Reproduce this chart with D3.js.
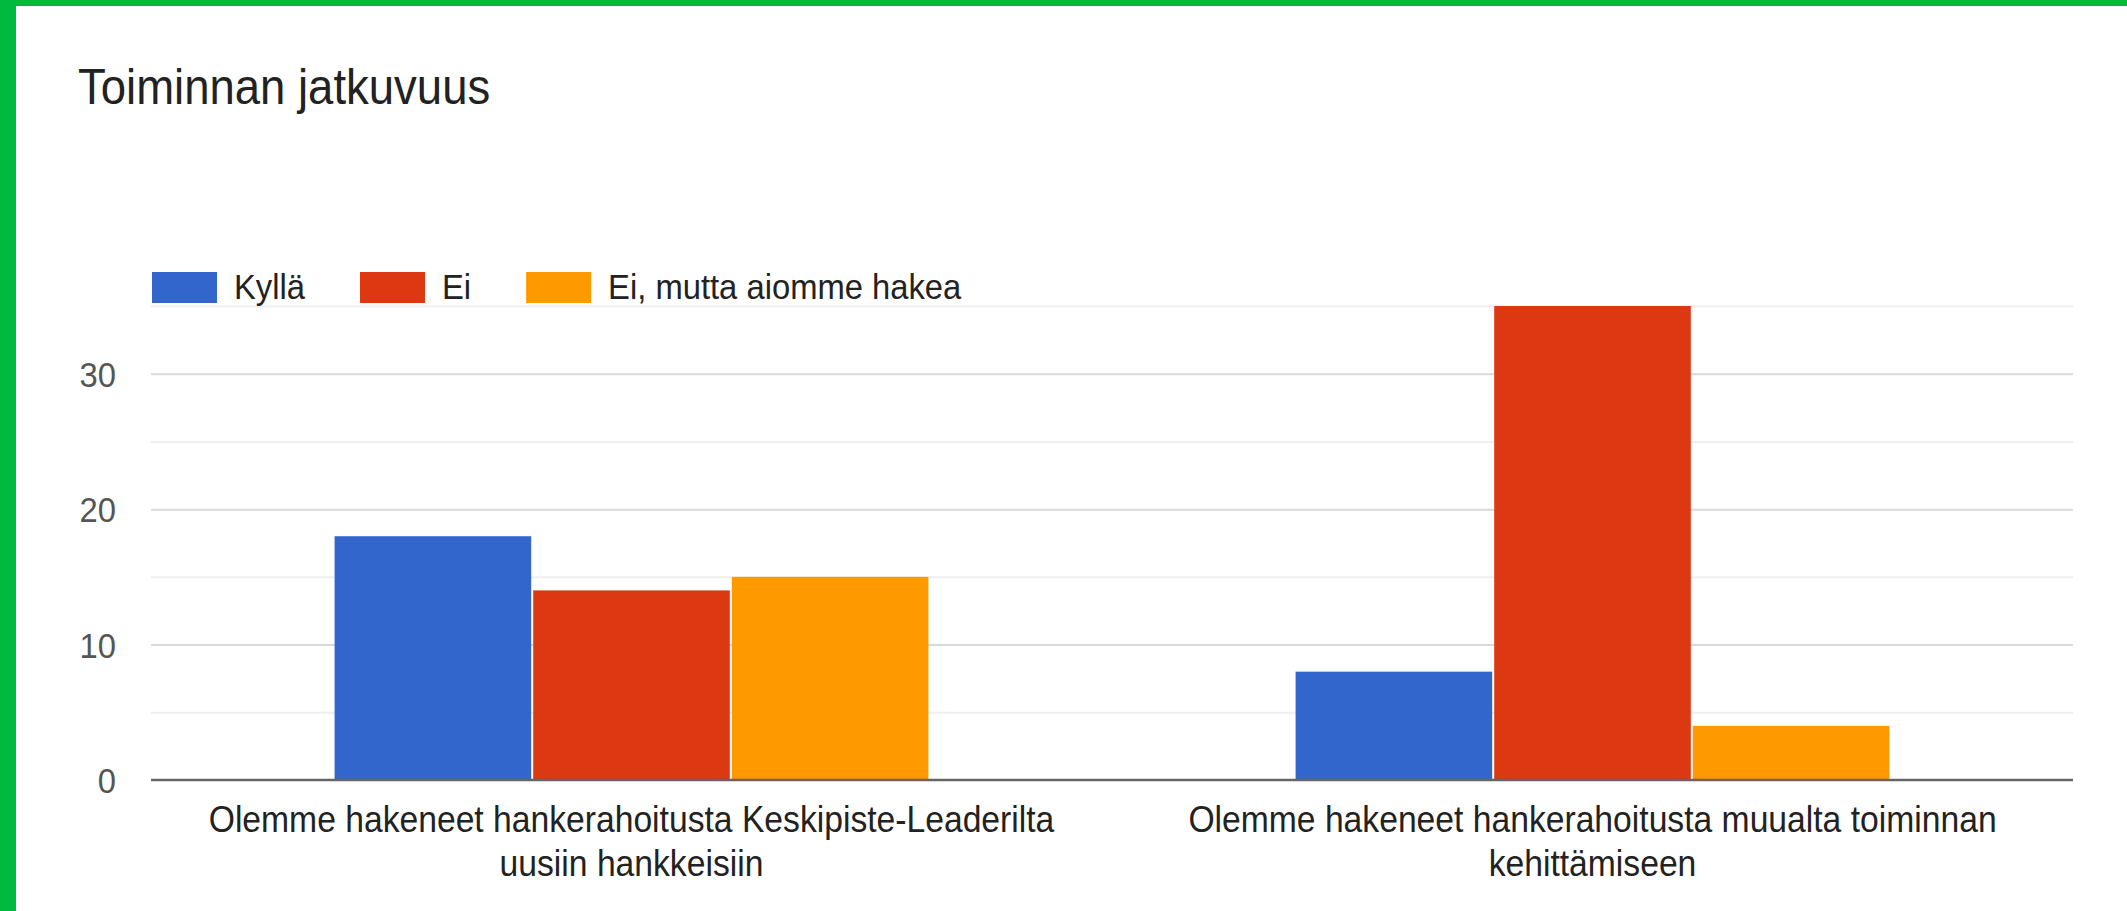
<!DOCTYPE html>
<html>
<head>
<meta charset="utf-8">
<script src="https://cdn.jsdelivr.net/npm/d3@7"></script>
<style>
  html, body { margin: 0; padding: 0; background: #fff; }
  svg { display: block; font-family: "Liberation Sans", Arial, sans-serif; }
</style>
</head>
<body>
<div id="chart"></div>
<script>
// chart data
const chartTitle = "Toiminnan jatkuvuus";
const categories = [
  "Olemme hakeneet hankerahoitusta Keskipiste-Leaderilta uusiin hankkeisiin",
  "Olemme hakeneet hankerahoitusta muualta toiminnan kehittämiseen"
];
const seriesNames = ["Kyllä", "Ei", "Ei, mutta aiomme hakea"];
const kyllaValues = [18, 8];
const eiValues = [14, 35];
const eiMuttaValues = [15, 4];
const seriesColors = ["#3366cc", "#dc3912", "#ff9900"];
const yTicks = [0, 10, 20, 30];
const yMinorTicks = [5, 15, 25, 35];

const width = 2127, height = 911;
const margin = { left: 151, right: 54, top: 306, bottom: 131 };
const plotW = width - margin.left - margin.right;
const plotH = height - margin.top - margin.bottom;
const squeeze = 0.91; // the screenshot text is a bit narrower than Arial

const allValues = [kyllaValues, eiValues, eiMuttaValues];
const rows = categories.map((c, i) => ({
  category: c,
  values: seriesNames.map((s, j) => ({ series: s, value: allValues[j][i] }))
}));

const svg = d3.select("#chart").append("svg")
  .attr("width", width)
  .attr("height", height);

// green frame from the screenshot
svg.append("rect").attr("x", 0).attr("y", 0).attr("width", width).attr("height", 6).attr("fill", "#00b93f");
svg.append("rect").attr("x", 0).attr("y", 0).attr("width", 16).attr("height", height).attr("fill", "#00b93f");

svg.append("text")
  .attr("transform", `translate(78,104) scale(${squeeze},1)`)
  .style("font-size", "50px")
  .style("fill", "#222")
  .text(chartTitle);

const x0 = d3.scaleBand().domain(categories).range([0, plotW]).paddingInner(0.38).paddingOuter(0.19);
const x1 = d3.scaleBand().domain(seriesNames).range([0, x0.bandwidth()]);
const y = d3.scaleLinear().domain([0, 35]).range([plotH, 0]);
const color = d3.scaleOrdinal().domain(seriesNames).range(seriesColors);

const g = svg.append("g").attr("transform", `translate(${margin.left},${margin.top})`);

// gridlines
g.append("g")
  .call(d3.axisLeft(y).tickValues(yMinorTicks).tickSize(-plotW).tickFormat(""))
  .call(ax => ax.select(".domain").remove())
  .selectAll("line").attr("stroke", "#efefef").attr("stroke-width", 2);

g.append("g")
  .call(d3.axisLeft(y).tickValues(yTicks.filter(d => d > 0)).tickSize(-plotW).tickFormat(""))
  .call(ax => ax.select(".domain").remove())
  .selectAll("line").attr("stroke", "#d9d9d9").attr("stroke-width", 2);

// bars
g.selectAll("g.group")
  .data(rows)
  .enter().append("g")
  .attr("class", "group")
  .attr("transform", d => `translate(${x0(d.category)},0)`)
  .selectAll("rect")
  .data(d => d.values)
  .enter().append("rect")
  .attr("x", d => x1(d.series) + 1)
  .attr("y", d => y(d.value))
  .attr("width", x1.bandwidth() - 2)
  .attr("height", d => y(0) - y(d.value))
  .attr("fill", d => color(d.series));

// baseline
g.append("line")
  .attr("x1", 0).attr("x2", plotW)
  .attr("y1", y(0)).attr("y2", y(0))
  .attr("stroke", "#666").attr("stroke-width", 2.5);

// y axis labels
const yAxis = g.append("g")
  .call(d3.axisLeft(y).tickValues(yTicks).tickSize(0).tickFormat(d3.format("d")));
yAxis.select(".domain").remove();
yAxis.selectAll("text")
  .attr("x", 0)
  .attr("dy", "0.35em")
  .attr("transform", `translate(-35,0) scale(${squeeze},1)`)
  .style("font-size", "36px")
  .style("font-family", "'Liberation Sans', Arial, sans-serif")
  .style("fill", "#555");

// category labels, wrapped
const labelLines = [];
rows.forEach(d => {
  const words = d.category.split(" ");
  const lines = [];
  let line = [];
  const probe = svg.append("text").style("font-size", "37px");
  words.forEach(w => {
    line.push(w);
    probe.text(line.join(" "));
    if (probe.node().getComputedTextLength() * squeeze > x0.step() * 0.94 && line.length > 1) {
      line.pop();
      lines.push(line.join(" "));
      line = [w];
    }
  });
  lines.push(line.join(" "));
  probe.remove();
  lines.forEach((t, i) => labelLines.push({ category: d.category, text: t, line: i }));
});

g.selectAll("text.cat")
  .data(labelLines)
  .enter().append("text")
  .attr("class", "cat")
  .attr("text-anchor", "middle")
  .attr("transform", d => `translate(${x0(d.category) + x0.bandwidth() / 2},${plotH + 52 + d.line * 44}) scale(${squeeze},1)`)
  .style("font-size", "37px")
  .style("fill", "#222")
  .text(d => d.text);

// legend
const legend = svg.append("g").attr("transform", "translate(152,272)");
let lx = 0;
seriesNames.forEach((s, i) => {
  legend.append("rect")
    .attr("x", lx).attr("y", 0)
    .attr("width", 65).attr("height", 31)
    .attr("fill", color(s));
  const t = legend.append("text")
    .attr("transform", `translate(${lx + 82},27) scale(${squeeze},1)`)
    .style("font-size", "36px")
    .style("fill", "#222")
    .text(s);
  lx += 82 + t.node().getComputedTextLength() * squeeze + 55;
});
</script>
</body>
</html>
